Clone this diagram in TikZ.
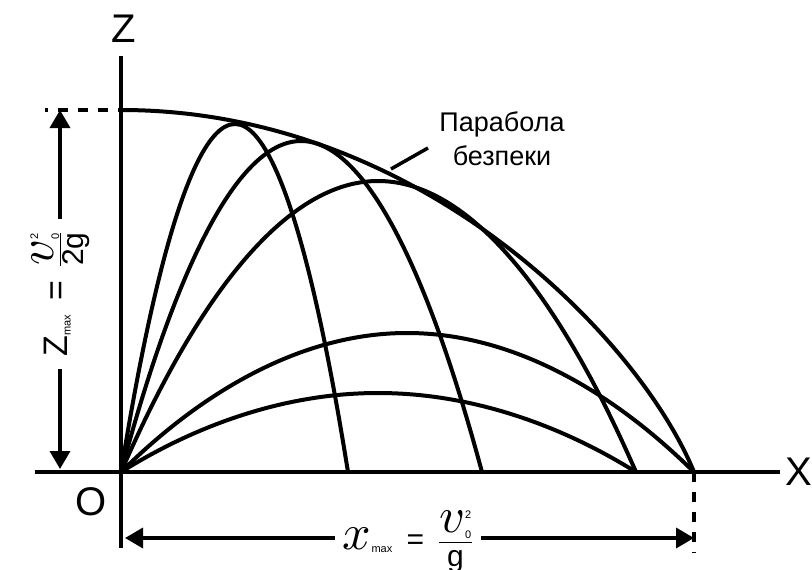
\documentclass[tikz,border=0pt]{standalone}
\usepackage{amsmath}
\usepackage{fontspec}
\setmainfont{Liberation Sans}
\usetikzlibrary{arrows.meta}

\newcommand{\tnum}[1]{\text{\fontsize{11}{11}\selectfont #1}}
\newcommand{\bigv}{\text{\scalebox{5}{\fontsize{10}{10}\selectfont$v$}}}
\newcommand{\bigx}{\text{\scalebox{5}{\fontsize{10}{10}\selectfont$x$}}}
\newcommand{\eqsign}{\mathrel{\text{=}}}

\tikzset{
  axisline/.style={line width=4pt},
  curve/.style={line width=4pt},
  dimline/.style={line width=3.5pt,-{Triangle[length=18pt,width=20pt]}},
  guide/.style={line width=4.5pt,dash pattern=on 10pt off 10pt},
  axlabel/.style={font=\fontsize{40}{40}\selectfont},
  dimlab/.style={font=\fontsize{30}{30}\selectfont,inner sep=8pt},
  safety/.style={font=\fontsize{27}{34}\selectfont,align=center},
}

\begin{document}
\begin{tikzpicture}[x=1pt,y=-1pt]
  \useasboundingbox (0,0) rectangle (812,570);
  % --- axes ---
  \coordinate (O) at (121,472);
  \coordinate (zaxtop) at (121,56);
  \coordinate (zaxbot) at (121,548);
  \coordinate (xaxleft) at (35,472);
  \coordinate (xaxright) at (780,472);
  \draw[axisline] (zaxtop) -- (zaxbot);
  \draw[axisline] (xaxleft) -- (xaxright);
  \node[axlabel] (zname) at (124,29) {Z};
  \node[axlabel,anchor=west] (xname) at (782,472) {X};
  \node[axlabel] (oname) at (91,502) {O};
  % --- safety parabola and trajectories ---
  \draw[curve] (121,110) .. controls (421,110) and (640,340) .. (694,472);
  \foreach \ax/\ay/\lx in {235/124/348, 301/141/482, 378/181/636, 407/333/694, 378/393/636}
    \draw[curve] (O) parabola bend (\ax,\ay) (\lx,472);
  \node[safety] (safelab) at (502,139) {Парабола\\безпеки};
  \coordinate (lead) at (391,169);
  \coordinate (leadend) at (428,148);
  \draw[line width=3.5pt] (lead) -- (leadend);
  % --- guides ---
  \coordinate (zmaxend) at (45,110);
  \coordinate (xmaxend) at (694,553);
  \draw[guide,dash phase=7pt] (zmaxend) -- (121,110);
  \draw[guide] (694,472) -- (xmaxend);
  % --- dimensions ---
  \node[dimlab,font=\fontsize{34}{34}\selectfont,inner xsep=12pt,rotate=90,anchor=base] (zmaxlab) at (67,294)
    {Z$_{\tnum{max}} \;\eqsign\; \tfrac{\bigv^{\tnum{2}}_{\tnum{0}}}{\text{\fontsize{30}{30}\selectfont 2g}}$};
  \coordinate (ztop) at (60,110);
  \coordinate (zbot) at (60,469);
  \draw[dimline] (ztop |- zmaxlab.east) -- (ztop);
  \draw[dimline] (zbot |- zmaxlab.west) -- (zbot);
  \node[dimlab,anchor=base] (xmaxlab) at (408,549)
    {$\bigx_{\tnum{max}} \;\eqsign\; \dfrac{\bigv^{\tnum{2}}_{\tnum{0}}}{\text{g}}$};
  \coordinate (xleft) at (125,538);
  \coordinate (xright) at (694,538);
  \draw[dimline] (xmaxlab.west |- xleft) -- (xleft);
  \draw[dimline] (xmaxlab.east |- xright) -- (xright);
\end{tikzpicture}
\end{document}
